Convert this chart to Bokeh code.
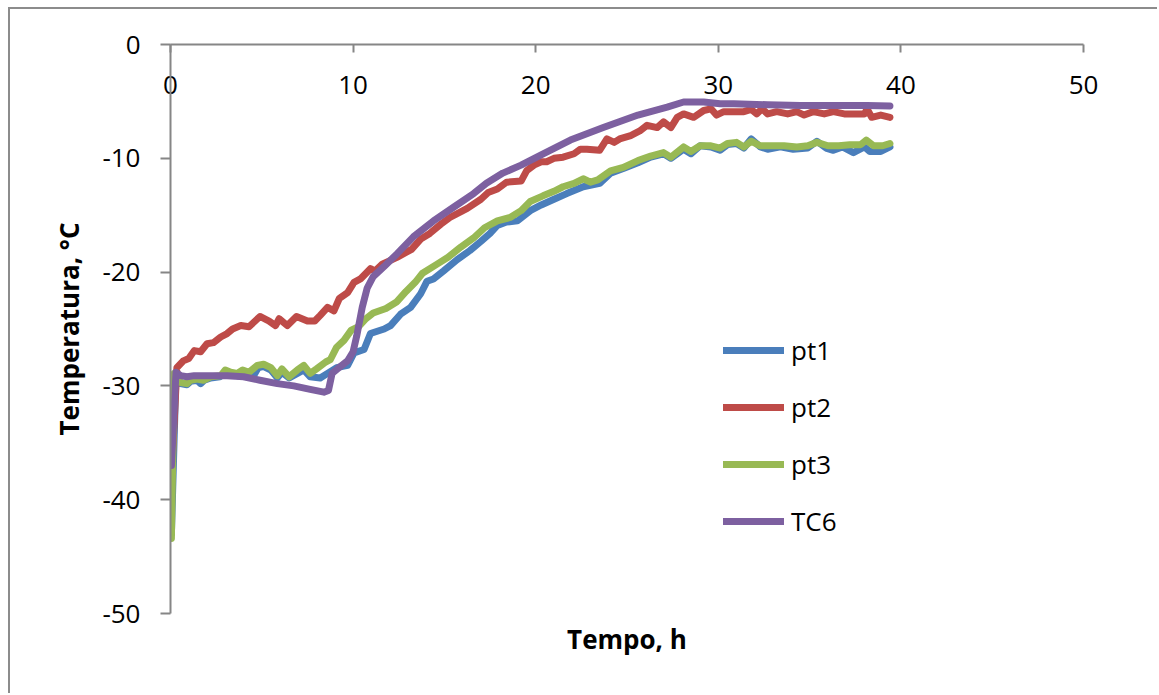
from bokeh.plotting import figure
from bokeh.models import Range1d, LinearAxis, FixedTicker, Legend, LegendItem
from bokeh.embed import file_html
from bokeh.resources import INLINE

# ---- data (time h, temperature °C) ----
pt1 = [(0.05, -43.0), (0.3, -29.0), (0.55, -29.8), (0.9, -29.9), (1.1, -29.6), (1.45, -29.5),
       (1.65, -29.8), (1.85, -29.5), (2.2, -29.3), (2.7, -29.2), (3.0, -28.8), (3.3, -29.0),
       (3.65, -29.1), (3.95, -28.8), (4.3, -29.0), (4.55, -29.1), (4.8, -28.4), (5.1, -28.3),
       (5.5, -28.6), (5.85, -29.3), (6.1, -28.8), (6.5, -29.3), (6.95, -28.9), (7.3, -28.6),
       (7.65, -29.2), (8.2, -29.3), (8.6, -28.9), (9.1, -28.4), (9.7, -28.2), (10.05, -27.1),
       (10.6, -26.8), (10.95, -25.4), (11.7, -25.0), (12.05, -24.7), (12.6, -23.7), (13.15, -23.1),
       (13.7, -21.9), (14.05, -20.8), (14.4, -20.6), (14.95, -19.9), (15.7, -18.9), (16.4, -18.1),
       (17.0, -17.3), (17.5, -16.6), (17.9, -15.9), (18.4, -15.6), (19.0, -15.5), (19.7, -14.6),
       (20.3, -14.1), (21.0, -13.6), (21.7, -13.1), (22.6, -12.5), (23.5, -12.2), (24.1, -11.3),
       (24.8, -10.9), (25.6, -10.4), (26.3, -9.9), (27.0, -9.6), (27.4, -10.0), (28.1, -9.2),
       (28.5, -9.6), (29.0, -8.9), (29.6, -9.0), (30.1, -9.3), (30.5, -8.8), (31.0, -8.7),
       (31.4, -9.1), (31.8, -8.3), (32.3, -9.0), (32.7, -9.2), (33.4, -9.0), (34.1, -9.2),
       (34.9, -9.1), (35.4, -8.5), (35.9, -9.1), (36.3, -9.3), (36.8, -9.0), (37.4, -9.5),
       (38.0, -9.0), (38.3, -9.4), (38.9, -9.4), (39.4, -9.0)]

pt2 = [(0.05, -38.0), (0.35, -28.4), (0.7, -27.8), (1.0, -27.6), (1.3, -26.9), (1.65, -27.0),
       (2.0, -26.3), (2.35, -26.2), (2.75, -25.7), (3.1, -25.4), (3.4, -25.0), (3.85, -24.7),
       (4.3, -24.8), (4.9, -23.9), (5.4, -24.3), (5.75, -24.7), (5.95, -24.1), (6.4, -24.7),
       (6.9, -23.9), (7.5, -24.3), (7.9, -24.3), (8.2, -23.8), (8.6, -23.1), (8.95, -23.4),
       (9.25, -22.3), (9.7, -21.8), (10.05, -20.9), (10.4, -20.6), (10.95, -19.7), (11.2, -19.9),
       (11.6, -19.3), (12.4, -18.7), (13.2, -18.0), (13.7, -17.1), (14.2, -16.6), (14.8, -15.8),
       (15.3, -15.2), (16.25, -14.4), (17.0, -13.6), (17.4, -13.0), (17.9, -12.7), (18.4, -12.1),
       (19.2, -12.0), (19.5, -11.1), (19.9, -10.6), (20.3, -10.3), (20.6, -10.3), (21.0, -10.0),
       (21.5, -9.9), (22.1, -9.6), (22.45, -9.2), (22.8, -9.2), (23.5, -9.3), (23.9, -8.3),
       (24.3, -8.6), (24.6, -8.3), (25.2, -8.0), (25.7, -7.6), (26.1, -7.1), (26.65, -7.3),
       (27.0, -6.8), (27.4, -7.3), (27.75, -6.4), (28.1, -6.1), (28.65, -6.4), (29.2, -5.8),
       (29.6, -5.65), (29.9, -6.2), (30.3, -5.9), (30.85, -5.9), (31.4, -5.9), (31.8, -5.7),
       (32.1, -6.1), (32.4, -5.65), (32.7, -6.1), (33.2, -5.9), (33.8, -6.1), (34.3, -5.9),
       (34.7, -6.2), (35.2, -5.9), (35.8, -6.1), (36.3, -5.9), (36.9, -6.1), (38.0, -6.1),
       (38.15, -5.65), (38.4, -6.4), (38.9, -6.2), (39.4, -6.4)]

pt3 = [(0.05, -43.4), (0.2, -28.9), (0.55, -29.7), (0.9, -29.8), (1.1, -29.5), (1.45, -29.4),
       (1.8, -29.5), (2.2, -29.2), (2.75, -29.1), (3.0, -28.6), (3.3, -28.8), (3.65, -28.9),
       (3.95, -28.6), (4.3, -28.8), (4.75, -28.2), (5.1, -28.1), (5.5, -28.4), (5.85, -29.1),
       (6.1, -28.5), (6.5, -29.2), (6.95, -28.6), (7.3, -28.2), (7.65, -28.9), (8.0, -28.5),
       (8.5, -27.9), (8.75, -27.7), (9.1, -26.6), (9.5, -26.0), (9.9, -25.1), (10.3, -24.8),
       (10.7, -24.1), (11.1, -23.6), (11.8, -23.2), (12.4, -22.6), (12.9, -21.7), (13.4, -20.9),
       (13.8, -20.1), (14.6, -19.3), (15.2, -18.7), (15.9, -17.8), (16.6, -17.0), (17.2, -16.1),
       (17.9, -15.5), (18.6, -15.2), (19.2, -14.6), (19.7, -13.8), (20.4, -13.3), (21.0, -12.9),
       (21.5, -12.5), (22.1, -12.2), (22.6, -11.8), (23.0, -12.1), (23.4, -11.9), (24.1, -11.1),
       (24.8, -10.8), (25.6, -10.2), (26.3, -9.8), (27.0, -9.5), (27.4, -9.9), (28.1, -9.0),
       (28.5, -9.4), (29.0, -8.9), (29.6, -8.9), (30.1, -9.1), (30.5, -8.7), (31.0, -8.6),
       (31.4, -9.0), (31.8, -8.5), (32.3, -8.9), (33.0, -8.9), (33.6, -8.9), (34.3, -9.0),
       (34.9, -8.9), (35.4, -8.6), (36.0, -8.9), (36.6, -8.9), (37.2, -8.8), (37.8, -8.8),
       (38.1, -8.4), (38.5, -8.9), (39.0, -8.9), (39.4, -8.7)]

tc6 = [(0.05, -37.0), (0.3, -28.8), (0.55, -29.1), (0.9, -29.2), (1.3, -29.1), (3.1, -29.1),
       (4.0, -29.2), (4.9, -29.5), (5.85, -29.8), (6.75, -30.0), (7.65, -30.3), (8.4, -30.55),
       (8.65, -30.4), (8.85, -28.9), (9.15, -28.5), (9.7, -27.8), (10.0, -27.0), (10.2, -25.6),
       (10.5, -23.1), (10.77, -21.4), (11.1, -20.4), (11.7, -19.5), (12.4, -18.4), (13.3, -16.9),
       (14.4, -15.5), (15.5, -14.3), (16.6, -13.1), (17.3, -12.2), (18.2, -11.3), (19.2, -10.6),
       (20.3, -9.7), (21.9, -8.4), (23.7, -7.3), (25.6, -6.2), (27.2, -5.5), (28.1, -5.05),
       (29.2, -5.05), (30.1, -5.2), (30.85, -5.2), (32.7, -5.3), (34.5, -5.35), (36.5, -5.35),
       (38.15, -5.35), (39.4, -5.4)]

series_names = ["pt1", "pt2", "pt3", "TC6"]
series_data = [pt1, pt2, pt3, tc6]
series_colors = ["#4A7EBB", "#BE4B48", "#98B954", "#7D60A0"]
x_ticks = [0, 10, 20, 30, 40, 50]
y_ticks = [0, -10, -20, -30, -40, -50]
y_tick_labels = ["0", "-10", "-20", "-30", "-40", "-50"]
x_title = "Tempo, h"
y_title = "Temperatura, °C"

FONT = "Open Sans"
GREY = "#868686"

# outer chart-area border: canvas starts at (10, 9) in the window
p = figure(width=1149, height=686, output_backend="svg", toolbar_location=None,
           x_range=Range1d(0, 50), y_range=Range1d(-50, 0),
           x_axis_location=None, y_axis_location=None,
           min_border_left=160, min_border_right=76, min_border_top=35, min_border_bottom=82)
p.styles = {"margin-left": "8px", "margin-top": "7px",
            "border-left": "2px solid #8C8C8C", "border-top": "2px solid #8C8C8C"}
p.grid.visible = False
p.outline_line_color = None
p.background_fill_color = "white"
p.border_fill_color = "white"

# y axis (left)
yax = LinearAxis(ticker=FixedTicker(ticks=y_ticks), axis_label=y_title)
yax.major_label_overrides = {t: s for t, s in zip(y_ticks, y_tick_labels)}
yax.axis_line_color = GREY
yax.axis_line_width = 2
yax.major_tick_line_color = GREY
yax.major_tick_line_width = 2
yax.major_tick_in = 0
yax.major_tick_out = 10
yax.minor_tick_line_color = None
yax.major_label_text_font = FONT
yax.major_label_text_font_size = "26px"
yax.major_label_text_color = "black"
yax.major_label_standoff = 20
yax.axis_label_text_font = FONT
yax.axis_label_text_font_style = "bold"
yax.axis_label_text_font_size = "26px"
yax.axis_label_text_color = "black"
yax.axis_label_standoff = 12
p.add_layout(yax, "left")

# x axis at y=0 (top of the frame), labels below the line
xax = LinearAxis(ticker=FixedTicker(ticks=x_ticks))
xax.axis_line_color = GREY
xax.axis_line_width = 2
xax.major_tick_line_color = GREY
xax.major_tick_line_width = 2
xax.major_tick_in = 8
xax.major_tick_out = 0
xax.minor_tick_line_color = None
xax.major_label_text_font = FONT
xax.major_label_text_font_size = "26px"
xax.major_label_text_color = "black"
xax.major_label_standoff = -49
p.add_layout(xax, "above")

# x-axis title at the bottom
xt = LinearAxis(ticker=FixedTicker(ticks=[]), axis_label=x_title)
xt.axis_line_color = None
xt.major_tick_line_color = None
xt.minor_tick_line_color = None
xt.major_label_text_font_size = "0px"
xt.axis_label_text_font = FONT
xt.axis_label_text_font_style = "bold"
xt.axis_label_text_font_size = "26px"
xt.axis_label_text_color = "black"
xt.axis_label_standoff = 7
p.add_layout(xt, "below")

items = []
for name, data, col in zip(series_names, series_data, series_colors):
    xs = [d[0] for d in data]
    ys = [d[1] for d in data]
    r = p.line(xs, ys, line_color=col, line_width=7, line_cap="round", line_join="round")
    items.append(LegendItem(label=name, renderers=[r]))

leg = Legend(items=items, location=(553, 74), padding=0, margin=0, spacing=21,
             glyph_width=61, glyph_height=20, label_height=20, label_standoff=7,
             label_text_font=FONT, label_text_font_size="26px", label_text_color="black",
             border_line_color=None, background_fill_alpha=0)
p.add_layout(leg, "center")

open("out.html", "w").write(file_html(p, INLINE))
